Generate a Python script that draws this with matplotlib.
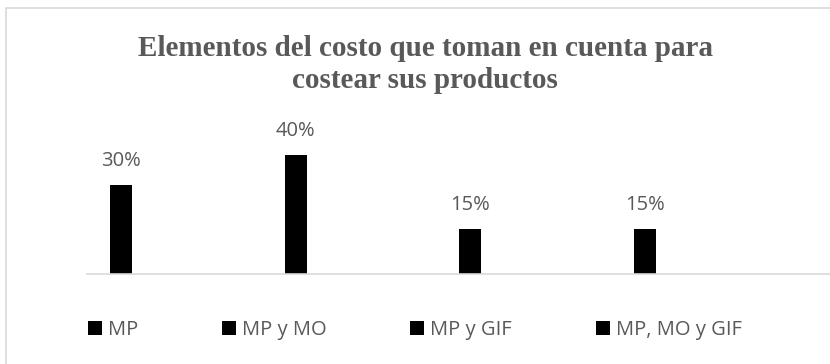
import matplotlib.pyplot as plt
from matplotlib.patches import Rectangle

# survey answers: which cost elements are used to price the products
series = ['MP', 'MP y MO', 'MP y GIF', 'MP, MO y GIF']
shares = [30, 40, 15, 15]
labels = ['30%', '40%', '15%', '15%']
title_lines = ['Elementos del costo que toman en cuenta para',
               'costear sus productos']

gray = '#595959'
plt.rcParams['font.family'] = ['Open Sans', 'DejaVu Sans']

fig = plt.figure(figsize=(8.3, 3.64), dpi=100)
W, H = 830, 364

# plot area: baseline at y=274 px, starts at x=87 px
ax = fig.add_axes([87 / W, (H - 274) / H, 1 - 87 / W, 45 * 2.97 / H])

bars = []
for i, (name, val, lab) in enumerate(zip(series, shares, labels)):
    b = ax.bar(i, val, width=0.126, color='black', label=name)
    bars.append(b)
    ax.annotate(lab, (i, val), xytext=(0, 13.8), textcoords='offset points',
                ha='center', va='baseline', fontsize=14.5, color=gray,
                annotation_clip=False)

ax.set_xlim(-0.1947, 4.059)
ax.set_ylim(0, 45)
ax.set_xticks([])
ax.set_yticks([])
for s in ['top', 'left', 'right']:
    ax.spines[s].set_visible(False)
ax.spines['bottom'].set_color('#d9d9d9')
ax.spines['bottom'].set_linewidth(1.2)
ax.patch.set_visible(False)

# two-line title, baselines 32 px apart
for line, y in zip(title_lines, [56, 88]):
    fig.text(425 / W, 1 - y / H, line, ha='center', va='baseline',
             fontsize=21, fontweight='bold', family='Liberation Serif',
             color=gray)

fig.legend(handles=[b[0] for b in bars], labels=series, ncol=4,
           loc='center left', bbox_to_anchor=(88 / W, 1 - 330 / H),
           frameon=False, fontsize=14.5, labelcolor=gray,
           handlelength=0.7, handleheight=0.7, handletextpad=0.3,
           columnspacing=4.15, borderpad=0, borderaxespad=0)

# chart frame, only left and top edges fall inside the image
fig.patches.append(Rectangle((6 / W, -0.1), 1.2, 1 - 8 / H + 0.1,
                             transform=fig.transFigure, fill=False,
                             edgecolor='#d9d9d9', linewidth=1.2))

fig.savefig('out.png', dpi=100)
